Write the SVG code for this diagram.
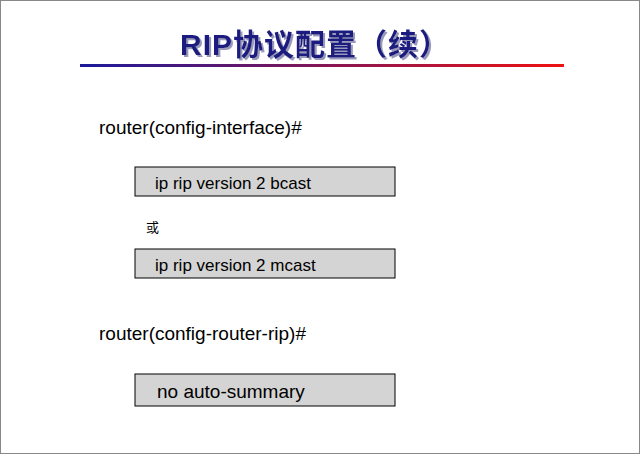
<svg xmlns="http://www.w3.org/2000/svg" width="640" height="454" viewBox="0 0 640 454">
<style>
.t{font-family:"Liberation Sans",Arial,sans-serif;font-size:19px;fill:#000}
.b{fill:#d4d4d4;stroke:#000;stroke-width:1}
.ttl{font-family:"Liberation Sans","Noto Sans CJK SC",sans-serif;font-size:30px;font-weight:bold;fill:#1a1a80;letter-spacing:1px}
</style>
<defs>
<linearGradient id="g" x1="0" x2="1"><stop offset="0" stop-color="#1a1a9a"/><stop offset="1" stop-color="#ee1111"/></linearGradient>
<filter id="sh" x="-10%" y="-30%" width="120%" height="160%"><feDropShadow dx="2" dy="2" stdDeviation="0.5" flood-color="#9999bb"/></filter>
</defs>
<rect x="0.5" y="0.5" width="639" height="453" fill="#fff" stroke="#888"/>
<g id="title">
<text x="315" y="55" text-anchor="middle" class="ttl" filter="url(#sh)">RIP协议配置（续）</text>
<rect x="80" y="64" width="484" height="3" fill="url(#g)"/>
</g>
<g id="prompt1"><text x="99" y="134" class="t">router(config-interface)#</text></g>
<g id="cmd1"><rect class="b" x="135" y="167" width="260" height="29"/><text x="155" y="189" class="t" style="font-size:17px">ip rip version 2 bcast</text></g>
<g id="or"><text x="146" y="232" style="font-family:'Noto Sans CJK SC',sans-serif;font-size:13px">或</text></g>
<g id="cmd2"><rect class="b" x="135" y="249" width="260" height="29"/><text x="155" y="271" class="t" style="font-size:17px">ip rip version 2 mcast</text></g>
<g id="prompt2"><text x="99" y="340" class="t">router(config-router-rip)#</text></g>
<g id="cmd3"><rect class="b" x="135" y="374" width="260" height="32"/><text x="157" y="398" class="t">no auto-summary</text></g>
<g id="connectors"/>
</svg>
